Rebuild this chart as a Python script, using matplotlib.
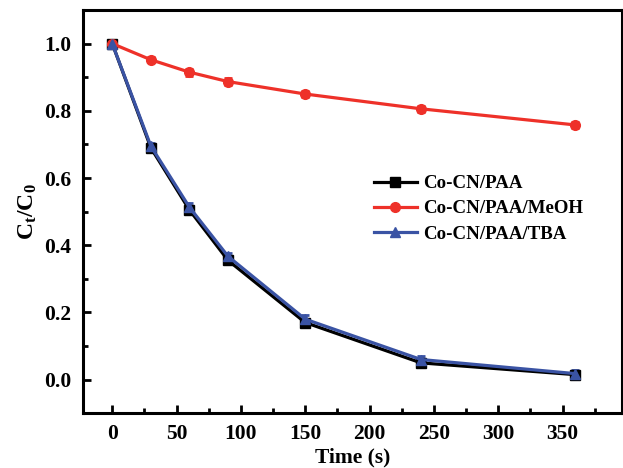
import matplotlib
matplotlib.use("Agg")
import matplotlib.pyplot as plt
from matplotlib.ticker import MultipleLocator

plt.rcParams['font.family'] = ['Liberation Serif', 'DejaVu Serif']
plt.rcParams['font.weight'] = 'bold'
plt.rcParams['mathtext.fontset'] = 'custom'
plt.rcParams['mathtext.rm'] = 'Liberation Serif:bold'
plt.rcParams['mathtext.it'] = 'Liberation Serif:bold'
plt.rcParams['mathtext.bf'] = 'Liberation Serif:bold'

time_s = [0, 30, 60, 90, 150, 240, 360]
paa = [1.0, 0.69, 0.505, 0.355, 0.17, 0.05, 0.015]
paa_meoh = [1.0, 0.952, 0.915, 0.887, 0.85, 0.806, 0.758]
paa_tba = [1.0, 0.695, 0.513, 0.367, 0.18, 0.06, 0.018]
err_paa = [0.004, 0.01, 0.01, 0.01, 0.01, 0.008, 0.008]
err_meoh = [0.004, 0.008, 0.01, 0.01, 0.008, 0.008, 0.008]
err_tba = [0.004, 0.01, 0.012, 0.01, 0.012, 0.01, 0.012]
labels = ['Co-CN/PAA', 'Co-CN/PAA/MeOH', 'Co-CN/PAA/TBA']

black = '#000000'
red = '#EE3129'
blue = '#3A53A4'

fig = plt.figure(figsize=(6.23, 4.68), dpi=100)
ax = fig.add_axes([0.1327, 0.1169, 0.8653, 0.8617])

lw = 2.3
ax.errorbar(time_s, paa, yerr=err_paa, color=black, marker='s', ms=7, lw=lw,
            elinewidth=2, capsize=3, capthick=2, label=labels[0])
ax.errorbar(time_s, paa_meoh, yerr=err_meoh, color=red, marker='o', ms=7, lw=lw,
            elinewidth=2, capsize=3, capthick=2, label=labels[1])
ax.errorbar(time_s, paa_tba, yerr=err_tba, color=blue, marker='^', ms=7.5, lw=lw,
            elinewidth=2, capsize=3, capthick=2, label=labels[2])

ax.set_xlim(-23, 396)
ax.set_ylim(-0.1, 1.1)
ax.xaxis.set_major_locator(MultipleLocator(50))
ax.xaxis.set_minor_locator(MultipleLocator(25))
ax.yaxis.set_major_locator(MultipleLocator(0.2))
ax.yaxis.set_minor_locator(MultipleLocator(0.1))
ax.yaxis.set_major_formatter(matplotlib.ticker.FormatStrFormatter('%.1f'))

for s in ax.spines.values():
    s.set_linewidth(2.2)
ax.tick_params(which='major', direction='in', length=6, width=2, labelsize=15.5, pad=8)
ax.tick_params(which='minor', direction='in', length=3.5, width=2)
ax.tick_params(top=False, right=False, which='both')

ax.set_xlabel('Time (s)', fontsize=15.5, fontweight='bold', labelpad=2)
ax.set_ylabel(r'C$_t$/C$_0$', fontsize=17, fontweight='bold', labelpad=4)

handles, labs = ax.get_legend_handles_labels()
handles = [h[0] for h in handles]
leg = ax.legend(handles, labs, loc='upper left', bbox_to_anchor=(0.508, 0.633), frameon=False,
                handlelength=2.3, handletextpad=0.3, labelspacing=0.42,
                prop={'weight': 'bold', 'size': 13.6})

fig.savefig('out.png', dpi=100)
